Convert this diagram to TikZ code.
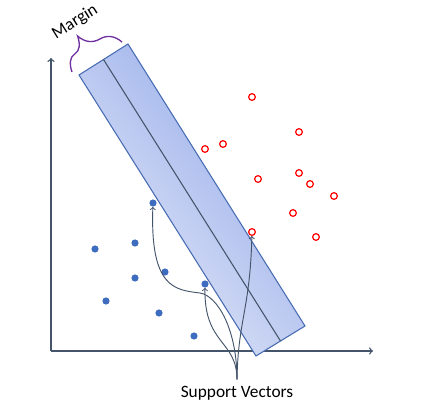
\documentclass[tikz,border=0pt]{standalone}
\usepackage{fontspec}
\setmainfont{Carlito}
\usepackage{tikz}
\usetikzlibrary{arrows,shapes,calc,decorations.pathreplacing}

\definecolor{axisgray}{RGB}{68,84,106}
\definecolor{dotblue}{RGB}{62,108,190}
\definecolor{bandline}{RGB}{72,108,178}
\definecolor{banddark}{RGB}{145,168,233}
\definecolor{bandlight}{RGB}{232,236,249}
\definecolor{bracepurple}{RGB}{112,48,160}

\begin{document}
\begin{tikzpicture}[x=0.75pt,y=-0.75pt,
axis/.style={draw=axisgray,line width=1pt,->},
bluedot/.style={circle,fill=dotblue,inner sep=0pt,minimum size=5.4pt},
reddot/.style={circle,draw=red,line width=0.9pt,fill=white,inner sep=0pt,minimum size=5pt},
pointer/.style={draw=axisgray,line width=0.7pt,->},
label/.style={font=\fontsize{13}{15}\selectfont,inner sep=1pt}]
\useasboundingbox (0,0) rectangle (447,407);

\coordinate (o) at (51,351);
\draw[axis] (o) -- (51,58);
\draw[axis] (o) -- (373,351);

\coordinate (tl) at (79,75);
\coordinate (tr) at (128,44);
\coordinate (br) at (305,326);
\coordinate (bl) at (256,356);
\shadedraw[top color=banddark,bottom color=bandlight,shading angle=-50,
  draw=bandline,line width=0.8pt] (tl) -- (tr) -- (br) -- (bl) -- cycle;
\draw[axisgray,line width=0.8pt] ($(tl)!.5!(tr)$) -- ($(bl)!.5!(br)$);

\draw[bracepurple,line width=1pt,decorate,decoration={brace,amplitude=21pt,aspect=0.4}]
  (72,72) -- (122,42);
\node[label,rotate=32] (margin) at (75,22) {Margin};

\foreach \px/\py [count=\i] in {153/203,95/249,135/243,135/278,165/272,
  106/301,159/313,194/336,205/284}
  \node[bluedot] (b\i) at (\px,\py) {};
\foreach \px/\py [count=\i] in {252/97,299/132,223/144,205/149,258/179,
  299/173,310/184,334/196,293/213,252/232,316/237}
  \node[reddot] (r\i) at (\px,\py) {};

\node[label,anchor=north] (sv) at (237,385) {Support Vectors};
\draw[pointer] ([yshift=4pt]sv.north) .. controls (238,320) and (250,310) .. (r10);
\draw[pointer] ([yshift=4pt]sv.north) .. controls (237,340) and (204,345) .. (b9);
\draw[pointer] ([yshift=4pt]sv.north) .. controls (237,330) and (218,296) .. (200,293)
  .. controls (175,290) and (150,288) .. (b1);
\end{tikzpicture}
\end{document}
